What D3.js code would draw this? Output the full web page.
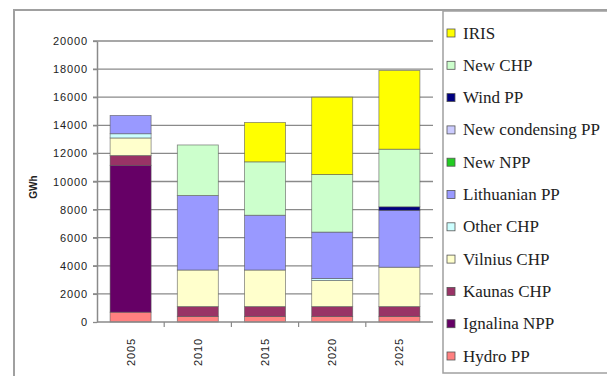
<!DOCTYPE html>
<html>
<head>
<meta charset="utf-8">
<script src="https://cdn.jsdelivr.net/npm/d3@7"></script>
<style>
  html, body { margin: 0; padding: 0; background: #fff; }
  svg { display: block; }
</style>
</head>
<body>
<svg id="chart" width="607" height="376"></svg>
<script>
// Electricity generation by source, GWh
const years = ["2005", "2010", "2015", "2020", "2025"];
const hydroPP         = [700,   400,  400,  400,  400];
const ignalinaNPP     = [10450, 0,    0,    0,    0];
const kaunasCHP       = [700,   700,  700,  700,  700];
const vilniusCHP      = [1250,  2600, 2600, 1850, 2800];
const otherCHP        = [300,   0,    0,    150,  0];
const lithuanianPP    = [1300,  5300, 3900, 3300, 4050];
const newNPP          = [0,     0,    0,    0,    0];
const newCondensingPP = [0,     0,    0,    0,    0];
const windPP          = [0,     0,    0,    0,    250];
const newCHP          = [0,     3600, 3800, 4100, 4100];
const iris            = [0,     0,    2800, 5500, 5600];
const yTicks = [0, 2000, 4000, 6000, 8000, 10000, 12000, 14000, 16000, 18000, 20000];

// Stack order, bottom to top
const seriesDefs = [
  { name: "Hydro PP",          values: hydroPP,         color: "#ff8080" },
  { name: "Ignalina NPP",      values: ignalinaNPP,     color: "#660066" },
  { name: "Kaunas CHP",        values: kaunasCHP,       color: "#993366" },
  { name: "Vilnius CHP",       values: vilniusCHP,      color: "#ffffcc" },
  { name: "Other CHP",         values: otherCHP,        color: "#ccffff" },
  { name: "Lithuanian PP",     values: lithuanianPP,    color: "#9999ff" },
  { name: "New NPP",           values: newNPP,          color: "#22cc22" },
  { name: "New condensing PP", values: newCondensingPP, color: "#ccccff" },
  { name: "Wind PP",           values: windPP,          color: "#000080" },
  { name: "New CHP",           values: newCHP,          color: "#ccffcc" },
  { name: "IRIS",              values: iris,            color: "#ffff00" }
];

const rows = years.map((y, i) => {
  const r = { year: y };
  seriesDefs.forEach(s => { r[s.name] = s.values[i]; });
  return r;
});
const stack = d3.stack().keys(seriesDefs.map(s => s.name));
const layers = stack(rows);

const svg = d3.select("#chart");

// outer chart frame
svg.append("rect")
  .attr("x", 14).attr("y", 10).attr("width", 620).attr("height", 400)
  .attr("fill", "#fff").attr("stroke", "#a0a0a0").attr("stroke-width", 2);

const plot = { left: 97, right: 433, top: 41, bottom: 322 };

const x = d3.scaleBand().domain(years)
  .range([plot.left, plot.right]).paddingInner(0.39).paddingOuter(0.195);
const y = d3.scaleLinear().domain([0, 20000]).range([plot.bottom, plot.top]);

// gridlines
svg.append("g")
  .selectAll("line").data(yTicks.filter(d => d > 0)).join("line")
  .attr("x1", plot.left - 4).attr("x2", plot.right)
  .attr("y1", d => y(d)).attr("y2", d => y(d))
  .attr("stroke", "#8a8a8a").attr("stroke-width", 1.3);

// bars
svg.append("g")
  .selectAll("g").data(layers).join("g")
  .attr("fill", (d, i) => seriesDefs[i].color)
  .selectAll("rect").data(d => d.filter(p => p[1] - p[0] > 0)).join("rect")
  .attr("x", d => x(d.data.year))
  .attr("width", x.bandwidth())
  .attr("y", d => y(d[1]))
  .attr("height", d => y(d[0]) - y(d[1]))
  .attr("stroke", "#555").attr("stroke-opacity", 0.7).attr("stroke-width", 0.8);

// y axis
const yAxis = d3.axisLeft(y).tickValues(yTicks).tickFormat(d3.format("d"))
  .tickSize(4).tickSizeOuter(0).tickPadding(5);
const gy = svg.append("g").attr("transform", `translate(${plot.left},0)`).call(yAxis);
gy.select(".domain").attr("stroke", "#8a8a8a").attr("stroke-width", 1.5);
gy.selectAll(".tick line").attr("stroke", "#8a8a8a").attr("stroke-width", 1.3);
gy.selectAll(".tick text")
  .attr("font-family", "Liberation Sans, Arial, sans-serif")
  .attr("font-size", 11).attr("letter-spacing", 0.9).attr("fill", "#222");

// x axis with ticks between categories
const gx = svg.append("g").attr("transform", `translate(0,${plot.bottom})`);
gx.append("line").attr("x1", plot.left).attr("x2", plot.right)
  .attr("stroke", "#8a8a8a").attr("stroke-width", 1.5);
gx.selectAll("line.sep").data(years.slice(1)).join("line")
  .attr("class", "sep")
  .attr("x1", d => x(d) - x.step() * x.paddingInner() / 2)
  .attr("x2", d => x(d) - x.step() * x.paddingInner() / 2)
  .attr("y1", 0).attr("y2", 5)
  .attr("stroke", "#8a8a8a").attr("stroke-width", 1.2);
gx.selectAll("text").data(years).join("text")
  .attr("transform", d => `translate(${x(d) + x.bandwidth() / 2 + 4},16) rotate(-90)`)
  .attr("text-anchor", "end")
  .attr("font-family", "Liberation Sans, Arial, sans-serif")
  .attr("font-size", 11).attr("letter-spacing", 0.9).attr("fill", "#222")
  .text(d => d);

// y axis title
svg.append("text")
  .attr("transform", "translate(37,187) rotate(-90)")
  .attr("text-anchor", "middle")
  .attr("font-family", "Liberation Sans, Arial, sans-serif")
  .attr("font-size", 10).attr("font-weight", "bold").attr("fill", "#222")
  .text("GWh");

// legend
const legend = svg.append("g");
legend.append("rect")
  .attr("x", 443).attr("y", 11).attr("width", 200).attr("height", 362)
  .attr("fill", "#fff").attr("stroke", "#a0a0a0").attr("stroke-width", 1.5);
const legendItems = seriesDefs.slice().reverse();
const ly = d3.scalePoint().domain(legendItems.map(d => d.name)).range([33, 356]);
const li = legend.selectAll("g.item").data(legendItems).join("g")
  .attr("class", "item")
  .attr("transform", d => `translate(447,${ly(d.name)})`);
li.append("rect")
  .attr("x", 0).attr("y", -4).attr("width", 8).attr("height", 8)
  .attr("fill", d => d.color).attr("stroke", "#555").attr("stroke-width", 0.8);
li.append("text")
  .attr("x", 16).attr("y", 5.5)
  .attr("font-family", "Liberation Serif, 'Times New Roman', serif")
  .attr("font-size", 17).attr("fill", "#222")
  .text(d => d.name);
</script>
</body>
</html>
